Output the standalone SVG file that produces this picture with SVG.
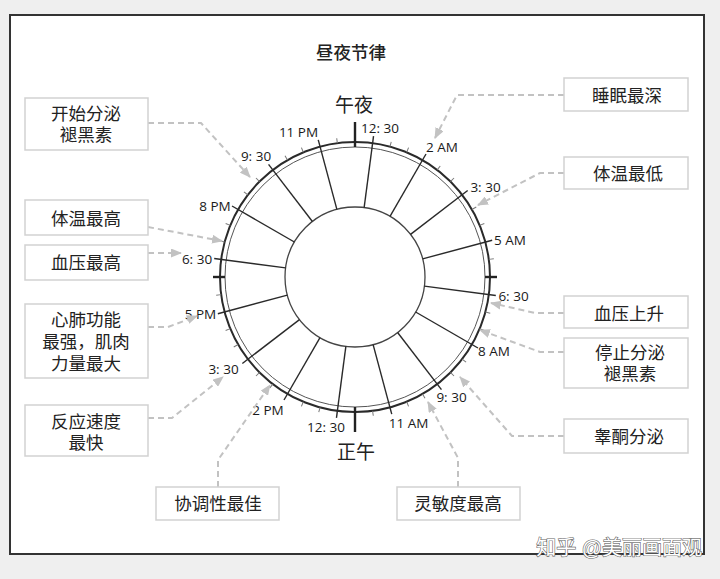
<svg xmlns="http://www.w3.org/2000/svg" width="720" height="579" viewBox="0 0 720 579">
<style>
.box{fill:#fff;stroke:#d2d2d2;stroke-width:1.5}
.bt{font-family:"Liberation Sans","Noto Sans CJK SC",sans-serif;font-size:17.5px;fill:#222;text-anchor:middle}
.tl{font-family:"Open Sans","Liberation Sans",sans-serif;font-size:13.5px;fill:#1a1a1a;text-anchor:middle}
.big{font-family:"Liberation Sans","Noto Sans CJK SC",sans-serif;font-size:19px;fill:#222;text-anchor:middle}
.rad{stroke:#2a2a2a;stroke-width:1.4}
.tick{stroke:#777;stroke-width:1}
.conn{fill:none;stroke:#c2c2c2;stroke-width:2;stroke-dasharray:6 4;marker-end:url(#ah)}
</style>
<defs>
<marker id="ah" markerUnits="userSpaceOnUse" markerWidth="11" markerHeight="9" refX="10" refY="4.5" orient="auto">
<path d="M0,0 L11,4.5 L0,9 z" fill="#c2c2c2"/>
</marker>
</defs>
<rect x="0" y="0" width="720" height="579" fill="#efefef"/>
<rect x="10" y="15" width="694" height="539" fill="#fff" stroke="#333" stroke-width="2"/>
<text x="351" y="58.5" class="bt" font-size="18.5" font-weight="500">昼夜节律</text>

<g id="clock">
<circle cx="355" cy="277" r="135" fill="none" stroke="#2a2a2a" stroke-width="2"/>
<circle cx="355" cy="277" r="130" fill="none" stroke="#555" stroke-width="1"/>
<circle cx="355" cy="277" r="70" fill="none" stroke="#444" stroke-width="1.3"/>
<g class="rad">
<line x1="355" y1="207" x2="355" y2="135" transform="rotate(7.5 355 277)"/>
<line x1="355" y1="207" x2="355" y2="135" transform="rotate(30 355 277)"/>
<line x1="355" y1="207" x2="355" y2="135" transform="rotate(52.5 355 277)"/>
<line x1="355" y1="207" x2="355" y2="135" transform="rotate(75 355 277)"/>
<line x1="355" y1="207" x2="355" y2="135" transform="rotate(97.5 355 277)"/>
<line x1="355" y1="207" x2="355" y2="135" transform="rotate(120 355 277)"/>
<line x1="355" y1="207" x2="355" y2="135" transform="rotate(142.5 355 277)"/>
<line x1="355" y1="207" x2="355" y2="135" transform="rotate(165 355 277)"/>
<line x1="355" y1="207" x2="355" y2="135" transform="rotate(187.5 355 277)"/>
<line x1="355" y1="207" x2="355" y2="135" transform="rotate(210 355 277)"/>
<line x1="355" y1="207" x2="355" y2="135" transform="rotate(232.5 355 277)"/>
<line x1="355" y1="207" x2="355" y2="135" transform="rotate(255 355 277)"/>
<line x1="355" y1="207" x2="355" y2="135" transform="rotate(277.5 355 277)"/>
<line x1="355" y1="207" x2="355" y2="135" transform="rotate(300 355 277)"/>
<line x1="355" y1="207" x2="355" y2="135" transform="rotate(322.5 355 277)"/>
<line x1="355" y1="207" x2="355" y2="135" transform="rotate(345 355 277)"/>
</g>
<g class="tick">
<line x1="355" y1="142" x2="355" y2="137" transform="rotate(15 355 277)"/>
<line x1="355" y1="142" x2="355" y2="137" transform="rotate(22.5 355 277)"/>
<line x1="355" y1="142" x2="355" y2="137" transform="rotate(37.5 355 277)"/>
<line x1="355" y1="142" x2="355" y2="137" transform="rotate(45 355 277)"/>
<line x1="355" y1="142" x2="355" y2="137" transform="rotate(60 355 277)"/>
<line x1="355" y1="142" x2="355" y2="137" transform="rotate(67.5 355 277)"/>
<line x1="355" y1="142" x2="355" y2="137" transform="rotate(82.5 355 277)"/>
<line x1="355" y1="142" x2="355" y2="137" transform="rotate(105 355 277)"/>
<line x1="355" y1="142" x2="355" y2="137" transform="rotate(112.5 355 277)"/>
<line x1="355" y1="142" x2="355" y2="137" transform="rotate(127.5 355 277)"/>
<line x1="355" y1="142" x2="355" y2="137" transform="rotate(135 355 277)"/>
<line x1="355" y1="142" x2="355" y2="137" transform="rotate(150 355 277)"/>
<line x1="355" y1="142" x2="355" y2="137" transform="rotate(157.5 355 277)"/>
<line x1="355" y1="142" x2="355" y2="137" transform="rotate(172.5 355 277)"/>
<line x1="355" y1="142" x2="355" y2="137" transform="rotate(195 355 277)"/>
<line x1="355" y1="142" x2="355" y2="137" transform="rotate(202.5 355 277)"/>
<line x1="355" y1="142" x2="355" y2="137" transform="rotate(217.5 355 277)"/>
<line x1="355" y1="142" x2="355" y2="137" transform="rotate(225 355 277)"/>
<line x1="355" y1="142" x2="355" y2="137" transform="rotate(240 355 277)"/>
<line x1="355" y1="142" x2="355" y2="137" transform="rotate(247.5 355 277)"/>
<line x1="355" y1="142" x2="355" y2="137" transform="rotate(262.5 355 277)"/>
<line x1="355" y1="142" x2="355" y2="137" transform="rotate(285 355 277)"/>
<line x1="355" y1="142" x2="355" y2="137" transform="rotate(292.5 355 277)"/>
<line x1="355" y1="142" x2="355" y2="137" transform="rotate(307.5 355 277)"/>
<line x1="355" y1="142" x2="355" y2="137" transform="rotate(315 355 277)"/>
<line x1="355" y1="142" x2="355" y2="137" transform="rotate(330 355 277)"/>
<line x1="355" y1="142" x2="355" y2="137" transform="rotate(337.5 355 277)"/>
<line x1="355" y1="142" x2="355" y2="137" transform="rotate(352.5 355 277)"/>
</g>
<g stroke="#222" stroke-width="2.4">
<line x1="355" y1="122" x2="355" y2="147"/>
<line x1="355" y1="407" x2="355" y2="432"/>
<line x1="213" y1="277" x2="225" y2="277"/>
<line x1="485" y1="277" x2="497" y2="277"/>
</g>
<text x="298.5" y="137" class="tl">11 PM</text>
<text x="380" y="133" class="tl">12: 30</text>
<text x="442" y="152" class="tl">2 AM</text>
<text x="256" y="161" class="tl">9: 30</text>
<text x="485.5" y="192" class="tl">3: 30</text>
<text x="215" y="211" class="tl">8 PM</text>
<text x="510" y="245" class="tl">5 AM</text>
<text x="197" y="264" class="tl">6: 30</text>
<text x="513.5" y="301" class="tl">6: 30</text>
<text x="200.5" y="319" class="tl">5 PM</text>
<text x="494" y="356" class="tl">8 AM</text>
<text x="223.5" y="374" class="tl">3: 30</text>
<text x="451.5" y="402" class="tl">9: 30</text>
<text x="268" y="415" class="tl">2 PM</text>
<text x="408.5" y="428" class="tl">11 AM</text>
<text x="326" y="432" class="tl">12: 30</text>
<text x="354" y="112" class="big">午夜</text>
<text x="356" y="459" class="big">正午</text>
</g>

<g id="connectors">
<path class="conn" d="M148,123 H201 L250,177"/>
<path class="conn" d="M148,227 L222,241"/>
<path class="conn" d="M148,253 L181,253"/>
<path class="conn" d="M148,327 H168 L197,316"/>
<path class="conn" d="M148,418 H172 L223,377"/>
<path class="conn" d="M218,487 V460 L270,385"/>
<path class="conn" d="M564,95 H457 L435,138"/>
<path class="conn" d="M564,173 H540 L478,205"/>
<path class="conn" d="M564,313 H535 L491,303"/>
<path class="conn" d="M564,352 H540 L480,330"/>
<path class="conn" d="M564,436 H512 L460,377"/>
<path class="conn" d="M458,487 V458 L428,402"/>
</g>

<g id="n-melatonin-start"><rect class="box" x="25" y="98" width="123" height="52"/><text class="bt"><tspan x="86" y="120">开始分泌</tspan><tspan x="86" y="141">褪黑素</tspan></text></g>
<g id="n-temp-high"><rect class="box" x="25" y="200" width="123" height="35"/><text class="bt" x="86" y="224.5">体温最高</text></g>
<g id="n-bp-high"><rect class="box" x="25" y="245" width="123" height="35"/><text class="bt" x="86" y="268.5">血压最高</text></g>
<g id="n-cardio"><rect class="box" x="25" y="304" width="123" height="74"/><text class="bt"><tspan x="86" y="325.5">心肺功能</tspan><tspan x="86" y="347.5">最强，肌肉</tspan><tspan x="86" y="369.5">力量最大</tspan></text></g>
<g id="n-reaction"><rect class="box" x="25" y="405" width="123" height="51"/><text class="bt"><tspan x="86" y="427.5">反应速度</tspan><tspan x="86" y="449">最快</tspan></text></g>
<g id="n-sleep"><rect class="box" x="564" y="78" width="124" height="33"/><text class="bt" x="627" y="101.5">睡眠最深</text></g>
<g id="n-temp-low"><rect class="box" x="564" y="157" width="124" height="32"/><text class="bt" x="628" y="179.5">体温最低</text></g>
<g id="n-bp-rise"><rect class="box" x="564" y="296" width="124" height="32"/><text class="bt" x="629" y="319.5">血压上升</text></g>
<g id="n-melatonin-stop"><rect class="box" x="564" y="338" width="124" height="50"/><text class="bt"><tspan x="630" y="358.5">停止分泌</tspan><tspan x="630" y="379.5">褪黑素</tspan></text></g>
<g id="n-testosterone"><rect class="box" x="564" y="419" width="124" height="34"/><text class="bt" x="629" y="442.5">睾酮分泌</text></g>
<g id="n-coordination"><rect class="box" x="156" y="487" width="123" height="33"/><text class="bt" x="218" y="509.5">协调性最佳</text></g>
<g id="n-alertness"><rect class="box" x="397" y="487" width="123" height="33"/><text class="bt" x="458" y="509.5">灵敏度最高</text></g>

<text x="702" y="555" font-family="Liberation Sans,Noto Sans CJK SC,sans-serif" font-size="20" text-anchor="end" fill="#fff" stroke="#666" stroke-width="1.2" paint-order="stroke">知乎 @美丽画面观</text>
</svg>
